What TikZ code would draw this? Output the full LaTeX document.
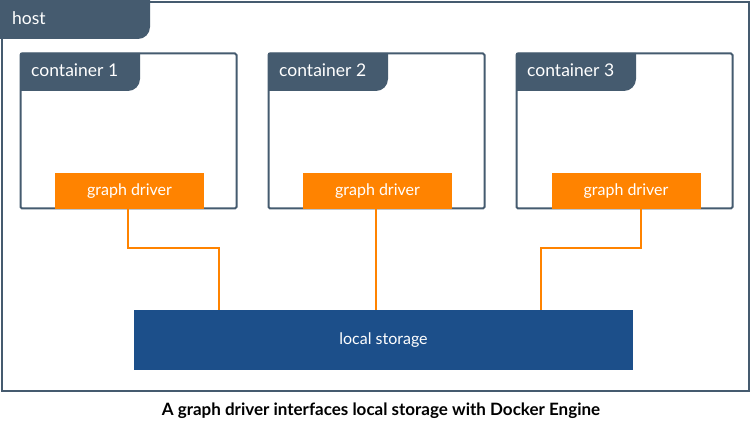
\documentclass[tikz,border=0pt]{standalone}
\usepackage{fontspec}
\setmainfont{Lato}
\usetikzlibrary{calc}
\definecolor{slate}{RGB}{69,91,111}
\definecolor{gdorange}{RGB}{255,131,0}
\definecolor{lsblue}{RGB}{28,79,138}
\begin{document}
\begin{tikzpicture}[x=1pt,y=-1pt,
  hostbox/.style={draw=slate, line width=2pt, inner sep=0pt, anchor=north west},
  contbox/.style={draw=slate, line width=2pt, rounded corners=1.5pt, inner sep=0pt, minimum width=216pt, minimum height=155pt},
  tablabel/.style={text=white, font=\fontsize{17.5}{20}\selectfont, anchor=west, inner sep=0pt},
  gd/.style={fill=gdorange, text=white, font=\fontsize{16}{18}\selectfont, minimum width=149pt, minimum height=36pt, inner sep=0pt},
  lsnode/.style={fill=lsblue, text=white, font=\fontsize{16}{18}\selectfont, minimum width=499pt, minimum height=60pt, inner sep=0pt},
  conn/.style={draw=gdorange, line width=2pt},
  caption/.style={font=\bfseries\fontsize{17}{19}\selectfont, inner sep=0pt}]
\useasboundingbox (0,0) rectangle (750,435);
\fill[white] (0,0) rectangle (750,435);
% host
\node[hostbox, minimum width=747pt, minimum height=389pt] (host) at (1,1) {};
\fill[slate] (0,0) -- (150,0) -- (150,27) .. controls (150,33.6) and (144.6,39) .. (138,39) -- (0,39) -- cycle;
\node[tablabel] (hostlabel) at (12,18) {host};
% containers
\node[contbox] (c1) at (128.5,131) {};
\node[contbox] (c2) at (376.5,131) {};
\node[contbox] (c3) at (624.5,131) {};
\foreach \x/\n in {20/1,268/2,516/3}{
  \fill[slate] (\x,53) -- (\x+120,53) -- (\x+120,79) .. controls (\x+120,85.6) and (\x+114.6,91) .. (\x+108,91) -- (\x,91) -- cycle;
  \node[tablabel] (c\n label) at (\x+11,70.5) {container \n};
}
% graph drivers
\node[gd] (g1) at (129.5,191) {graph driver};
\node[gd] (g2) at (377.5,191) {graph driver};
\node[gd] (g3) at (626,191) {graph driver};
% local storage
\node[lsnode] (ls) at (383.5,340) {local storage};
% connectors
\draw[conn] ([xshift=-1.5pt]g1.south) -- ++(0,39) -| ($(ls.north west)+(85,0)$);
\draw[conn] ([xshift=-1.5pt]g2.south) -- ([xshift=-7.5pt]ls.north);
\draw[conn] ([xshift=15pt]g3.south) -- ++(0,39) -| ($(ls.north west)+(407,0)$);
% caption
\node[caption] (cap) at (381,411) {A graph driver interfaces local storage with Docker Engine};
\end{tikzpicture}
\end{document}
